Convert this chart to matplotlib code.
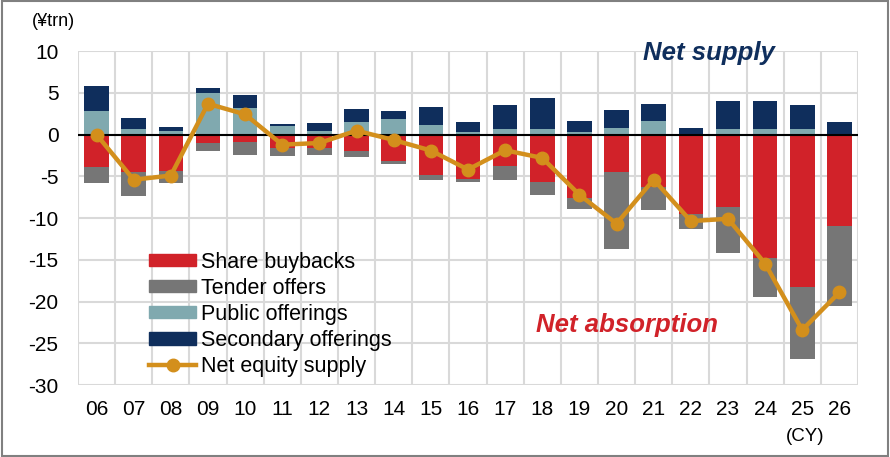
import numpy as np
import matplotlib
matplotlib.use('Agg')
import matplotlib.pyplot as plt
from matplotlib.lines import Line2D
from matplotlib.patches import Patch

plt.rcParams['font.family'] = ['Liberation Sans', 'DejaVu Sans']
plt.rcParams['axes.unicode_minus'] = False

years = ['06','07','08','09','10','11','12','13','14','15','16',
         '17','18','19','20','21','22','23','24','25','26']
# supply side (positive)
public = [2.8, 0.68, 0.4, 4.98, 3.2, 1.0, 0.48, 1.52, 1.83, 1.1, 0.36,
          0.63, 0.63, 0.32, 0.84, 1.6, 0.05, 0.68, 0.68, 0.68, 0.05]
secondary = [3.05, 1.32, 0.52, 0.6, 1.6, 0.23, 0.92, 1.55, 0.97, 2.2, 1.16,
             2.92, 3.71, 1.28, 2.11, 2.02, 0.79, 3.35, 3.35, 2.87, 1.47]
# absorption side (negative)
buybacks = [-3.9, -4.5, -4.3, -1.04, -0.88, -1.64, -1.55, -1.95, -3.15, -4.86, -5.34,
            -3.78, -5.7, -7.57, -4.46, -6.3, -9.48, -8.68, -14.78, -18.24, -10.9]
tender = [-1.95, -2.8, -1.5, -0.96, -1.55, -0.86, -0.85, -0.72, -0.4, -0.52, -0.39,
          -1.62, -1.5, -1.31, -9.2, -2.7, -1.79, -5.46, -4.72, -8.66, -9.6]
net = [0.0, -5.4, -4.9, 3.7, 2.43, -1.2, -1.0, 0.48, -0.64, -1.9, -4.18,
       -1.87, -2.79, -7.2, -10.67, -5.38, -10.36, -10.08, -15.45, -23.4, -18.9]

c_red = '#D12229'
c_gray = '#767676'
c_teal = '#80A9AF'
c_navy = '#0F2E5C'
c_line = '#D38F1C'

fig = plt.figure(figsize=(8.9, 4.57), dpi=100)
ax = fig.add_axes([0.0876, 0.1575, 0.8764, 0.7305])

x = np.arange(len(years))
w = 0.66
ax.bar(x, public, w, color=c_teal, zorder=2)
ax.bar(x, secondary, w, bottom=public, color=c_navy, zorder=2)
ax.bar(x, buybacks, w, color=c_red, zorder=2)
ax.bar(x, tender, w, bottom=buybacks, color=c_gray, zorder=2)
ax.axhline(0, color='black', lw=1.5, zorder=3)
ax.plot(x, net, color=c_line, lw=3.2, marker='o', ms=9, zorder=4)

ax.set_xlim(-0.5, len(years) - 0.5)
ax.set_ylim(-30, 10)
ax.set_yticks(np.arange(-30, 11, 5))
ax.set_xticks(x)
ax.set_xticklabels(years)
ax.set_xticks(np.arange(-0.5, len(years), 1), minor=True)
ax.grid(False)
ax.grid(True, which='minor', axis='x', color='#D9D9D9', lw=1.5, zorder=0)
ax.grid(True, which='major', axis='y', color='#D9D9D9', lw=1.5, zorder=0)
ax.tick_params(axis='both', which='both', length=0, labelsize=15)
ax.tick_params(axis='x', pad=11)
ax.tick_params(axis='y', pad=14)
for s in ax.spines.values():
    s.set_visible(False)

handles = [Patch(color=c_red), Patch(color=c_gray), Patch(color=c_teal),
           Patch(color=c_navy),
           Line2D([], [], color=c_line, lw=3.2, marker='o', ms=9)]
labels = ['Share buybacks', 'Tender offers', 'Public offerings',
          'Secondary offerings', 'Net equity supply']
leg = ax.legend(handles, labels, loc='lower left', bbox_to_anchor=(0.08, -0.002),
                frameon=False, fontsize=15.5, handlelength=2.2, handleheight=0.5,
                handletextpad=0.2, labelspacing=0.235, borderaxespad=0)
leg.set_zorder(5)

ax.text(16.5, 9.8, 'Net supply', color=c_navy, fontsize=18.5,
        fontweight='bold', fontstyle='italic', ha='center', va='center')
ax.text(14.27, -22.8, 'Net absorption', color=c_red, fontsize=18.5,
        fontweight='bold', fontstyle='italic', ha='center', va='center')

fig.text(0.06, 0.953, '(¥trn)', fontsize=13, ha='center', va='center')
fig.text(0.905, 0.045, '(CY)', fontsize=13.5, ha='center', va='center')

fig.patches.append(plt.Rectangle((0.002, 0.003), 0.996, 0.994, transform=fig.transFigure,
                                 fill=False, edgecolor='#808080', lw=1.5))

fig.savefig('out.png', dpi=100)
